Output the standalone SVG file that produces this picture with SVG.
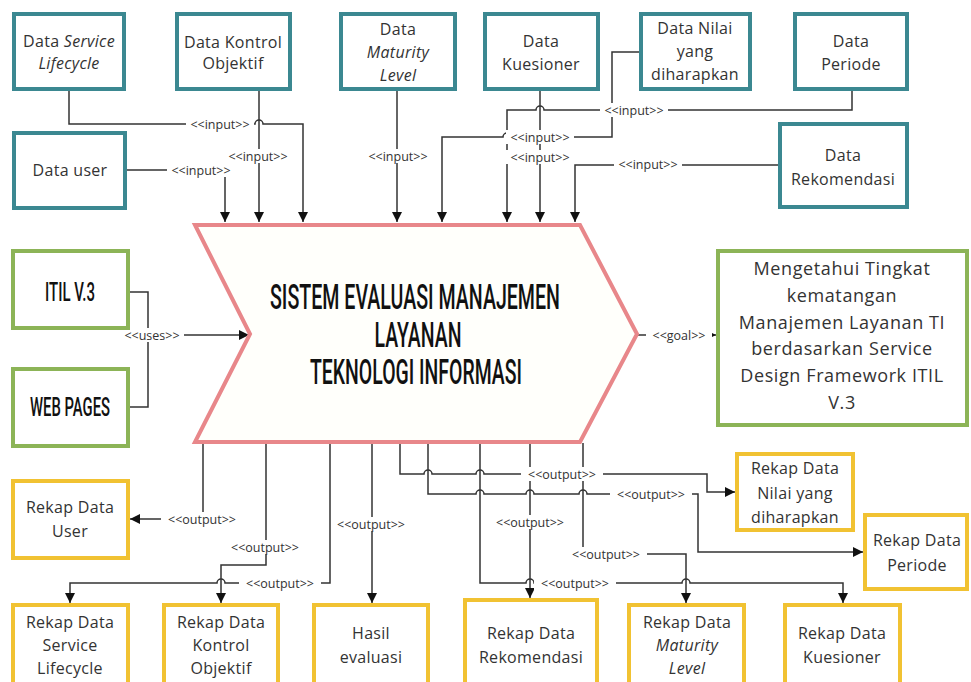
<svg xmlns="http://www.w3.org/2000/svg" width="971" height="682" viewBox="0 0 971 682">
  <defs>
    <marker id="arrow" viewBox="0 0 10 10" refX="10" refY="5" markerWidth="10" markerHeight="10" markerUnits="userSpaceOnUse" orient="auto">
      <path d="M0,0 L10,5 L0,10 z" fill="#111"/>
    </marker>
    <style>
      .in { fill: #ffffff; stroke: #3b8891; stroke-width: 4; }
      .src { fill: #ffffff; stroke: #8cb457; stroke-width: 4; }
      .out { fill: #ffffff; stroke: #f1c232; stroke-width: 4; }
      .t { font-family: "Open Sans", "Noto Sans", sans-serif; font-size: 16px; letter-spacing: 0.3px; fill: #333; text-anchor: middle; dominant-baseline: central; }
      .i { font-style: italic; }
      .big { font-size: 18px; letter-spacing: 0.6px; }
      .bold { font-family: Roboto, "Liberation Sans", sans-serif; font-weight: 500; fill: #111; text-anchor: middle; dominant-baseline: central; }
      .c { fill: none; stroke: #333; stroke-width: 1.5; }
      .ca { fill: none; stroke: #333; stroke-width: 1.5; marker-end: url(#arrow); }
      .lb { fill: #ffffff; }
      .lt { font-family: "Open Sans", "Noto Sans", sans-serif; font-size: 12.5px; fill: #333; text-anchor: middle; dominant-baseline: central; }
    </style>
  </defs>

  <rect width="971" height="682" fill="#ffffff"/>

  <!-- connectors -->
  <g id="connectors">
    <!-- inputs -->
    <path class="ca" d="M69,89 V124 H255 a4,4 0 0 1 8,0 H303 V222"/>
    <path class="ca" d="M259,89 V222"/>
    <path class="ca" d="M126,170 H225 V222"/>
    <path class="ca" d="M397,89 V222"/>
    <path class="ca" d="M641,52 H612 V137 H511 a4,4 0 0 0 -8,0 H442 V222"/>
    <path class="ca" d="M540,89 V222"/>
    <path class="ca" d="M852,89 V110 H544 a4,4 0 0 0 -8,0 H507 V222"/>
    <path class="ca" d="M780,165 H575 V222"/>
    <!-- uses / goal -->
    <path class="c" d="M129,292 H148 V407 H129"/>
    <path class="ca" d="M148,335 H249"/>
    <path class="ca" d="M637,335 H716"/>
    <!-- outputs -->
    <path class="ca" d="M203,443 V519 H130"/>
    <path class="ca" d="M266,443 V565 H221 V603"/>
    <path class="ca" d="M287,443 H330 V583 H225 a4,4 0 0 0 -8,0 H70 V603"/>
    <path class="ca" d="M372,443 V603"/>
    <path class="ca" d="M400,443 V474 H424 a4,4 0 0 1 8,0 H476 a4,4 0 0 1 8,0 H707 V492 H735"/>
    <path class="ca" d="M428,443 V494 H476 a4,4 0 0 1 8,0 H526 a4,4 0 0 1 8,0 H579 a4,4 0 0 1 8,0 H698 V552 H863"/>
    <path class="ca" d="M530,443 H480 V583 H526 a4,4 0 0 1 8,0 H682 a4,4 0 0 1 8,0 H843 V603"/>
    <path class="ca" d="M530,443 V598"/>
    <path class="ca" d="M583,443 V554 H686 V603"/>

    <!-- connector labels -->
    <g>
      <rect class="lb" x="186" y="117" width="68" height="14"/><text class="lt" x="220" y="124">&lt;&lt;input&gt;&gt;</text>
      <rect class="lb" x="224" y="149" width="68" height="14"/><text class="lt" x="258" y="156">&lt;&lt;input&gt;&gt;</text>
      <rect class="lb" x="167" y="163" width="68" height="14"/><text class="lt" x="201" y="170">&lt;&lt;input&gt;&gt;</text>
      <rect class="lb" x="364" y="149" width="68" height="14"/><text class="lt" x="398" y="156">&lt;&lt;input&gt;&gt;</text>
      <rect class="lb" x="506" y="130" width="68" height="14"/><text class="lt" x="540" y="137">&lt;&lt;input&gt;&gt;</text>
      <rect class="lb" x="506" y="150" width="68" height="14"/><text class="lt" x="540" y="157">&lt;&lt;input&gt;&gt;</text>
      <rect class="lb" x="600" y="103" width="68" height="14"/><text class="lt" x="634" y="110">&lt;&lt;input&gt;&gt;</text>
      <rect class="lb" x="614" y="157" width="68" height="14"/><text class="lt" x="648" y="164">&lt;&lt;input&gt;&gt;</text>
      <rect class="lb" x="120" y="328" width="64" height="14"/><text class="lt" x="152" y="335">&lt;&lt;uses&gt;&gt;</text>
      <rect class="lb" x="646" y="328" width="66" height="14"/><text class="lt" x="679" y="335">&lt;&lt;goal&gt;&gt;</text>
      <rect class="lb" x="161" y="512" width="82" height="14"/><text class="lt" x="202" y="519">&lt;&lt;output&gt;&gt;</text>
      <rect class="lb" x="224" y="540" width="82" height="14"/><text class="lt" x="265" y="547">&lt;&lt;output&gt;&gt;</text>
      <rect class="lb" x="239" y="576" width="82" height="14"/><text class="lt" x="280" y="583">&lt;&lt;output&gt;&gt;</text>
      <rect class="lb" x="333" y="517" width="76" height="14"/><text class="lt" x="371" y="524">&lt;&lt;output&gt;&gt;</text>
      <rect class="lb" x="521" y="467" width="82" height="14"/><text class="lt" x="562" y="474">&lt;&lt;output&gt;&gt;</text>
      <rect class="lb" x="610" y="487" width="82" height="14"/><text class="lt" x="651" y="494">&lt;&lt;output&gt;&gt;</text>
      <rect class="lb" x="489" y="515" width="82" height="14"/><text class="lt" x="530" y="522">&lt;&lt;output&gt;&gt;</text>
      <rect class="lb" x="565" y="547" width="82" height="14"/><text class="lt" x="606" y="554">&lt;&lt;output&gt;&gt;</text>
      <rect class="lb" x="534" y="576" width="82" height="14"/><text class="lt" x="575" y="583">&lt;&lt;output&gt;&gt;</text>
    </g>
  </g>

  <!-- central process -->
  <g id="sistem">
    <polygon points="195,225 580,225 637,334 580,442 195,442 250,334" fill="#fffffb" stroke="#e8878a" stroke-width="4"/>
    <text class="bold" x="415" y="297" font-size="35" textLength="290" lengthAdjust="spacingAndGlyphs">SISTEM EVALUASI MANAJEMEN</text>
    <text class="bold" x="418" y="335" font-size="35" textLength="87" lengthAdjust="spacingAndGlyphs">LAYANAN</text>
    <text class="bold" x="416" y="372" font-size="35" textLength="212" lengthAdjust="spacingAndGlyphs">TEKNOLOGI INFORMASI</text>
  </g>

  <!-- input nodes -->
  <g id="data-service-lifecycle">
    <rect class="in" x="14" y="14" width="110" height="75"/>
    <text class="t" x="69" y="41">Data <tspan class="i">Service</tspan></text>
    <text class="t i" x="69" y="63">Lifecycle</text>
  </g>
  <g id="data-kontrol-objektif">
    <rect class="in" x="177" y="14" width="113" height="75"/>
    <text class="t" x="233" y="42">Data Kontrol</text>
    <text class="t" x="233" y="63">Objektif</text>
  </g>
  <g id="data-maturity-level">
    <rect class="in" x="341" y="14" width="114" height="75"/>
    <text class="t" x="398" y="29">Data</text>
    <text class="t i" x="398" y="52">Maturity</text>
    <text class="t i" x="398" y="75">Level</text>
  </g>
  <g id="data-kuesioner">
    <rect class="in" x="485" y="14" width="113" height="75"/>
    <text class="t" x="541" y="41">Data</text>
    <text class="t" x="541" y="64">Kuesioner</text>
  </g>
  <g id="data-nilai">
    <rect class="in" x="641" y="14" width="109" height="75"/>
    <text class="t" x="695" y="28">Data Nilai</text>
    <text class="t" x="695" y="51">yang</text>
    <text class="t" x="695" y="74">diharapkan</text>
  </g>
  <g id="data-periode">
    <rect class="in" x="795" y="14" width="112" height="75"/>
    <text class="t" x="851" y="41">Data</text>
    <text class="t" x="851" y="64">Periode</text>
  </g>
  <g id="data-user">
    <rect class="in" x="14" y="133" width="111" height="75"/>
    <text class="t" x="70" y="170">Data user</text>
  </g>
  <g id="data-rekomendasi">
    <rect class="in" x="780" y="124" width="127" height="83"/>
    <text class="t" x="843" y="155">Data</text>
    <text class="t" x="843" y="179">Rekomendasi</text>
  </g>

  <!-- sources -->
  <g id="itil">
    <rect class="src" x="13" y="251" width="115" height="77"/>
    <text class="bold" x="70" y="292" font-size="25" textLength="50" lengthAdjust="spacingAndGlyphs">ITIL V.3</text>
  </g>
  <g id="web-pages">
    <rect class="src" x="13" y="369" width="115" height="77"/>
    <text class="bold" x="70" y="407" font-size="25" textLength="80" lengthAdjust="spacingAndGlyphs">WEB PAGES</text>
  </g>

  <!-- goal -->
  <g id="goal">
    <rect class="src" x="718" y="251" width="249" height="174"/>
    <text class="t big" x="842" y="268">Mengetahui Tingkat</text>
    <text class="t big" x="842" y="295">kematangan</text>
    <text class="t big" x="842" y="322">Manajemen Layanan TI</text>
    <text class="t big" x="842" y="348">berdasarkan Service</text>
    <text class="t big" x="842" y="375">Design Framework ITIL</text>
    <text class="t big" x="842" y="402">V.3</text>
  </g>

  <!-- output nodes -->
  <g id="rekap-user">
    <rect class="out" x="13" y="481" width="115" height="77"/>
    <text class="t" x="70" y="507">Rekap Data</text>
    <text class="t" x="70" y="531">User</text>
  </g>
  <g id="rekap-service-lifecycle">
    <rect class="out" x="13" y="605" width="115" height="85"/>
    <text class="t" x="70" y="622">Rekap Data</text>
    <text class="t" x="70" y="645">Service</text>
    <text class="t" x="70" y="668">Lifecycle</text>
  </g>
  <g id="rekap-kontrol-objektif">
    <rect class="out" x="164" y="605" width="114" height="85"/>
    <text class="t" x="221" y="622">Rekap Data</text>
    <text class="t" x="221" y="645">Kontrol</text>
    <text class="t" x="221" y="668">Objektif</text>
  </g>
  <g id="hasil-evaluasi">
    <rect class="out" x="314" y="605" width="114" height="85"/>
    <text class="t" x="371" y="633">Hasil</text>
    <text class="t" x="371" y="657">evaluasi</text>
  </g>
  <g id="rekap-rekomendasi">
    <rect class="out" x="465" y="600" width="132" height="90"/>
    <text class="t" x="531" y="633">Rekap Data</text>
    <text class="t" x="531" y="657">Rekomendasi</text>
  </g>
  <g id="rekap-maturity-level">
    <rect class="out" x="629" y="605" width="115" height="85"/>
    <text class="t" x="687" y="622">Rekap Data</text>
    <text class="t i" x="687" y="645">Maturity</text>
    <text class="t i" x="687" y="668">Level</text>
  </g>
  <g id="rekap-kuesioner">
    <rect class="out" x="785" y="605" width="115" height="85"/>
    <text class="t" x="842" y="633">Rekap Data</text>
    <text class="t" x="842" y="657">Kuesioner</text>
  </g>
  <g id="rekap-nilai">
    <rect class="out" x="737" y="454" width="116" height="76"/>
    <text class="t" x="795" y="468">Rekap Data</text>
    <text class="t" x="795" y="493">Nilai yang</text>
    <text class="t" x="795" y="517">diharapkan</text>
  </g>
  <g id="rekap-periode">
    <rect class="out" x="865" y="515" width="102" height="74"/>
    <text class="t" x="917" y="540">Rekap Data</text>
    <text class="t" x="917" y="565">Periode</text>
  </g>
</svg>
